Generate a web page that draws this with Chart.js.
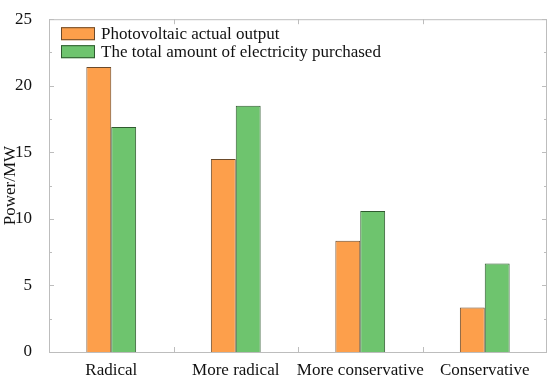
<!DOCTYPE html>
<html>
<head>
<meta charset="utf-8">
<script src="https://cdn.jsdelivr.net/npm/chart.js@4"></script>
<style>
  html, body { margin: 0; padding: 0; background: #fff; }
  #wrap { width: 550px; height: 376px; }
</style>
</head>
<body>
<div id="wrap"><canvas id="powerChart"></canvas></div>
<script>
// Dados do gráfico
const categories = ['Radical', 'More radical', 'More conservative', 'Conservative'];
const pvOutput = [21.4, 14.5, 8.35, 3.35];
const purchased = [16.9, 18.5, 10.6, 6.65];
const yTicks = [0, 5, 10, 15, 20, 25];
const seriesNames = ['Photovoltaic actual output', 'The total amount of electricity purchased'];

const serif = "'Liberation Serif', 'DejaVu Serif', serif";
const axisColor = '#bdbdbd';

// Caixa em volta + marcas de escala para dentro
const framePlugin = {
    id: 'frame',
    afterDraw(chart) {
        const { ctx, chartArea: a, scales } = chart;
        ctx.save();
        ctx.strokeStyle = axisColor;
        ctx.lineWidth = 1;
        ctx.strokeRect(a.left + 0.5, a.top + 0.5, a.right - a.left - 1, a.bottom - a.top);
        ctx.beginPath();
        // y: maiores e menores
        for (let v = 0; v <= 25; v += 2.5) {
            const y = Math.round(scales.y.getPixelForValue(v)) + 0.5;
            const len = v % 5 === 0 ? 5 : 3;
            ctx.moveTo(a.left, y); ctx.lineTo(a.left + len, y);
            ctx.moveTo(a.right, y); ctx.lineTo(a.right - len, y);
        }
        // x: entre categorias
        for (let i = 1; i < categories.length; i++) {
            const x = Math.round((scales.x.getPixelForValue(i - 1) + scales.x.getPixelForValue(i)) / 2) + 0.5;
            ctx.moveTo(x, a.bottom); ctx.lineTo(x, a.bottom - 5);
            ctx.moveTo(x, a.top); ctx.lineTo(x, a.top + 5);
        }
        ctx.stroke();

        // Legenda dentro da área
        const items = chart.data.datasets;
        ctx.font = '17px ' + serif;
        ctx.textBaseline = 'middle';
        items.forEach((ds, i) => {
            const y = a.top + 8 + i * 18;
            ctx.fillStyle = ds.backgroundColor;
            ctx.fillRect(a.left + 12, y, 34, 13);
            ctx.strokeStyle = ds.borderColor;
            ctx.strokeRect(a.left + 12.5, y + 0.5, 33, 12);
            ctx.fillStyle = '#111';
            ctx.fillText(ds.label, a.left + 52, y + 7);
        });
        ctx.restore();
    }
};

const ctx = document.getElementById('powerChart').getContext('2d');
new Chart(ctx, {
    type: 'bar',
    data: {
        labels: categories,
        datasets: [{
            label: seriesNames[0],
            data: pvOutput,
            backgroundColor: '#fd9f4b',
            borderColor: '#6b4a2a',
            borderWidth: 1
        }, {
            label: seriesNames[1],
            data: purchased,
            backgroundColor: '#6ec46e',
            borderColor: '#2f5a2f',
            borderWidth: 1
        }]
    },
    options: {
        responsive: true,
        maintainAspectRatio: false,
        animation: false,
        layout: { padding: { top: 7, right: 3, left: 0, bottom: 0 } },
        datasets: { bar: { categoryPercentage: 0.4, barPercentage: 1 } },
        plugins: {
            legend: { display: false },
            tooltip: { enabled: false }
        },
        scales: {
            x: {
                grid: { display: false },
                border: { display: false },
                ticks: { color: '#111', font: { family: serif, size: 17 }, padding: 0, maxRotation: 0, autoSkip: false },
                afterFit(s) { s.height = 24; }
            },
            y: {
                min: 0,
                max: 25,
                afterBuildTicks(s) { s.ticks = yTicks.map(v => ({ value: v })); },
                grid: { display: false },
                border: { display: false },
                ticks: { color: '#111', font: { family: serif, size: 17 }, padding: 9 },
                title: { display: true, text: 'Power/MW', color: '#111', font: { family: serif, size: 17 }, padding: 0 },
                afterFit(s) { s.width = 49; }
            }
        }
    },
    plugins: [framePlugin]
});
</script>
</body>
</html>
